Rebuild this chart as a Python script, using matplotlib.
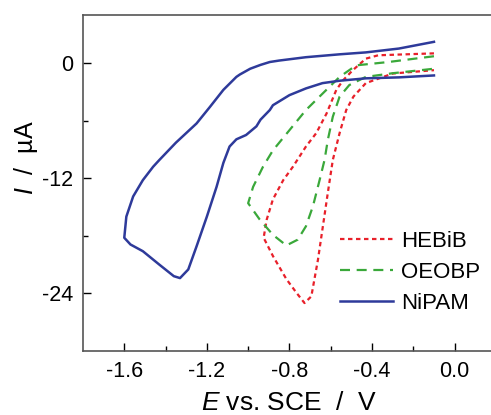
import matplotlib
matplotlib.use("Agg")
import matplotlib.pyplot as plt
from matplotlib.ticker import FixedLocator

plt.rcParams['font.family'] = ['Liberation Sans', 'DejaVu Sans']
plt.rcParams['mathtext.fontset'] = 'custom'
plt.rcParams['mathtext.rm'] = 'Liberation Sans'
plt.rcParams['mathtext.it'] = 'Liberation Sans:italic'

# NiPAM (potential in V vs SCE, current in uA)
nipam_E = [-0.10, -0.27, -0.43, -0.557, -0.72, -0.85, -0.895, -0.94, -0.99, -1.04,
           -1.057, -1.12, -1.186, -1.25, -1.35, -1.43, -1.46, -1.51, -1.557, -1.59,
           -1.60, -1.57, -1.51, -1.43, -1.36, -1.33, -1.29, -1.25, -1.20, -1.153,
           -1.12, -1.09, -1.057, -1.01, -0.96, -0.94, -0.895, -0.88, -0.80, -0.72,
           -0.64, -0.557, -0.43, -0.27, -0.10]
nipam_I = [2.2, 1.5, 1.1, 0.9, 0.6, 0.25, 0.1, -0.2, -0.6, -1.2,
           -1.45, -2.8, -4.6, -6.3, -8.3, -10.1, -10.8, -12.2, -13.9, -16.0,
           -18.2, -18.9, -19.6, -21.0, -22.2, -22.4, -21.5, -19.1, -16.0, -12.9,
           -10.4, -8.7, -7.95, -7.5, -6.6, -5.9, -4.9, -4.4, -3.35, -2.65,
           -2.1, -1.85, -1.6, -1.5, -1.3]

# HEBiB
hebib_E = [-0.10, -0.37, -0.43, -0.493, -0.54, -0.573, -0.62, -0.67, -0.72, -0.783,
           -0.83, -0.88, -0.91, -0.925, -0.88, -0.815, -0.767, -0.727, -0.694, -0.662,
           -0.638, -0.614, -0.59, -0.557, -0.525, -0.49, -0.43, -0.30, -0.10]
hebib_I = [1.0, 0.8, 0.45, -0.75, -1.8, -2.8, -5.25, -7.3, -8.7, -10.8,
           -12.2, -14.2, -16.3, -18.2, -20.1, -22.5, -23.9, -25.0, -24.3, -20.5,
           -17.0, -13.5, -10.1, -7.3, -4.9, -3.5, -2.1, -1.1, -0.75]

# OEOBP
oeobp_E = [-0.10, -0.32, -0.477, -0.557, -0.64, -0.72, -0.80, -0.88, -0.928, -0.976,
           -1.00, -0.944, -0.88, -0.815, -0.76, -0.72, -0.686, -0.654, -0.63, -0.614,
           -0.59, -0.557, -0.51, -0.43, -0.30, -0.10]
oeobp_I = [0.7, 0.1, -0.25, -1.45, -3.2, -4.9, -7.0, -9.1, -10.8, -12.9,
           -14.6, -16.3, -17.9, -19.0, -18.4, -17.0, -14.9, -12.2, -10.1, -8.0,
           -5.6, -3.5, -2.3, -1.45, -1.07, -0.6]

fig = plt.figure(figsize=(4.91, 4.15), dpi=100)
ax = fig.add_axes([0.169, 0.154, 0.841, 0.81])

ax.plot(hebib_E, hebib_I, color="#e8202a", linestyle=(0, (2, 1.6)), lw=1.6, label="HEBiB")
ax.plot(oeobp_E, oeobp_I, color="#3aa83a", linestyle=(0, (4.5, 3)), lw=1.6, label="OEOBP")
ax.plot(nipam_E, nipam_I, color="#2e3a9a", linestyle="-", lw=1.8, label="NiPAM")

ax.set_xlim(-1.8, 0.2)
ax.set_ylim(-30, 5)
ax.set_xticks([-1.6, -1.2, -0.8, -0.4, 0.0])
ax.set_xticklabels(["-1.6", "-1.2", "-0.8", "-0.4", "0.0"])
ax.xaxis.set_minor_locator(FixedLocator([-1.4, -1.0, -0.6, -0.2]))
ax.set_yticks([0, -12, -24])
ax.set_yticklabels(["0", "-12", "-24"])
ax.yaxis.set_minor_locator(FixedLocator([-6, -18]))

ax.tick_params(which="both", direction="in", labelsize=15.5, pad=7)
ax.tick_params(which="major", length=6, width=1)
ax.tick_params(which="minor", length=3.5, width=1)
for s in ax.spines.values():
    s.set_color("#555555")
    s.set_linewidth(1.2)

ax.set_xlabel(r"$\it{E}$ vs. SCE  /  V", fontsize=19)
ax.set_ylabel(r"$\it{I}$  /  µA", fontsize=18)
ax.xaxis.set_label_coords(0.5, -0.118)
ax.yaxis.set_label_coords(-0.105, 0.576)

ax.legend(loc="upper left", bbox_to_anchor=(0.6, 0.385), frameon=False, fontsize=16,
          handlelength=2.4, handletextpad=0.35, labelspacing=0.45, borderaxespad=0)

plt.savefig("out.png", dpi=100)
